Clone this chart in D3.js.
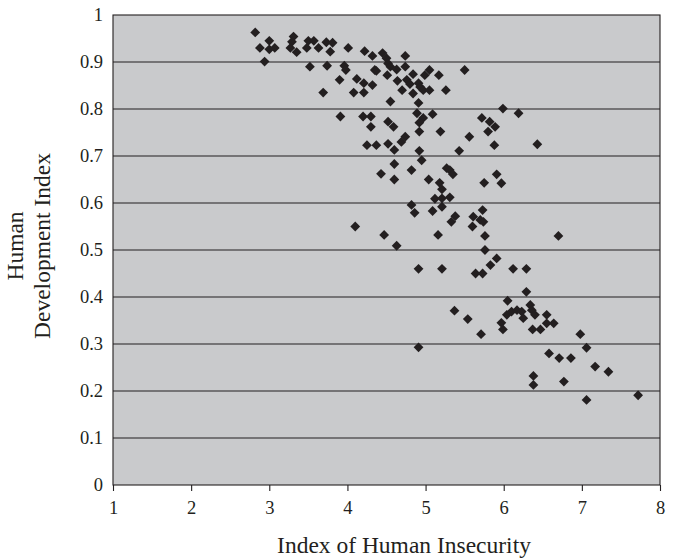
<!DOCTYPE html>
<html><head><meta charset="utf-8">
<script src="https://cdn.jsdelivr.net/npm/d3@7"></script>
<style>body{margin:0;background:#fff}svg{display:block}</style>
</head><body>
<svg id="c" width="673" height="559"></svg>
<script>
const xTicks = [1,2,3,4,5,6,7,8];
const yTicks = [0,0.1,0.2,0.3,0.4,0.5,0.6,0.7,0.8,0.9,1];
const xTitle = "Index of Human Insecurity";
const yTitle = ["Human","Development Index"];

// Index of Human Insecurity (x) and Human Development Index (y)
const ihi = [2.82,2.88,3.00,3.00,3.07,2.94,3.31,3.27,3.35,3.29,3.50,3.57,3.48,3.63,3.73,3.81,3.78,4.01,4.22,4.32,
3.52,3.74,3.96,3.98,3.90,4.12,4.21,4.32,4.35,3.69,4.08,4.21,3.91,4.20,4.30,4.30,4.45,4.50,4.52,4.55,
4.74,4.37,4.51,4.63,4.74,4.84,4.99,5.05,5.17,5.50,4.64,4.76,4.80,4.91,4.93,4.97,5.05,4.70,4.84,5.26,
4.55,4.91,5.99,4.89,4.97,5.09,4.92,4.52,4.59,4.92,5.19,4.74,5.56,5.72,5.82,5.89,5.80,4.25,4.37,4.52,
4.60,4.69,4.92,4.95,5.43,5.88,4.60,4.43,4.60,4.82,5.04,5.27,5.31,5.35,5.18,5.21,5.12,5.21,5.31,5.21,
5.75,5.91,5.97,4.82,4.86,5.09,4.10,4.47,5.16,4.63,5.38,5.33,5.61,5.60,5.73,5.70,5.74,5.76,5.76,5.91,
5.83,4.91,5.21,5.64,5.73,6.12,6.29,6.29,6.05,5.37,5.54,5.71,5.97,5.99,6.04,6.10,6.17,6.23,6.25,6.34,
6.36,6.40,6.37,6.47,6.55,6.55,6.64,6.98,7.06,4.91,6.58,6.71,6.86,7.17,7.34,6.38,6.38,6.77,7.06,7.72,
6.19,6.43,6.70];
const hdi = [0.963,0.930,0.945,0.927,0.930,0.901,0.954,0.930,0.921,0.943,0.945,0.945,0.930,0.930,0.942,0.941,0.922,0.930,0.923,0.913,
0.890,0.892,0.892,0.883,0.862,0.864,0.855,0.851,0.883,0.835,0.835,0.835,0.784,0.784,0.784,0.762,0.919,0.908,0.897,0.890,
0.913,0.881,0.872,0.884,0.890,0.874,0.872,0.883,0.872,0.883,0.860,0.862,0.853,0.855,0.847,0.840,0.840,0.840,0.833,0.840,
0.816,0.813,0.801,0.791,0.781,0.789,0.771,0.773,0.762,0.752,0.752,0.741,0.741,0.781,0.773,0.762,0.752,0.723,0.723,0.726,
0.713,0.730,0.711,0.691,0.711,0.723,0.683,0.662,0.650,0.670,0.650,0.674,0.670,0.661,0.643,0.629,0.609,0.610,0.612,0.592,
0.643,0.661,0.642,0.596,0.579,0.583,0.550,0.532,0.532,0.509,0.572,0.560,0.571,0.550,0.585,0.564,0.560,0.530,0.500,0.482,
0.468,0.460,0.460,0.450,0.450,0.460,0.460,0.411,0.392,0.371,0.353,0.321,0.345,0.331,0.362,0.369,0.372,0.369,0.355,0.383,
0.372,0.362,0.331,0.331,0.362,0.344,0.344,0.321,0.292,0.293,0.280,0.270,0.270,0.252,0.241,0.232,0.213,0.220,0.181,0.191,
0.791,0.725,0.530];

const data = ihi.map((v,i)=>({x:v, y:hdi[i]}));

const L=113, R=660, T=15, B=485;
const svg = d3.select("#c");
const font = "'Liberation Serif','Times New Roman',serif";

const x = d3.scaleLinear().domain([1,8]).range([L,R]);
const y = d3.scaleLinear().domain([0,1]).range([B,T]);

svg.append("rect").attr("x",L).attr("y",T).attr("width",R-L).attr("height",B-T)
  .attr("fill","#c9cacc");

svg.append("g").selectAll("line").data(yTicks.filter(d=>d>0&&d<1)).join("line")
  .attr("x1",L).attr("x2",R).attr("y1",d=>y(d)).attr("y2",d=>y(d))
  .attr("stroke","#231f20").attr("stroke-width",1.1);

svg.append("rect").attr("x",L).attr("y",T).attr("width",R-L).attr("height",B-T)
  .attr("fill","none").attr("stroke","#231f20").attr("stroke-width",1.1);

const gx = svg.append("g").attr("transform",`translate(0,${B})`)
  .call(d3.axisBottom(x).tickValues(xTicks).tickSize(6).tickPadding(10).tickFormat(d3.format("d")));
const gy = svg.append("g").attr("transform",`translate(${L},0)`)
  .call(d3.axisLeft(y).tickValues(yTicks).tickSize(0).tickPadding(10)
    .tickFormat(d=> (d===0||d===1)? String(d) : d3.format(".1f")(d)));
[gx,gy].forEach(g=>{
  g.select(".domain").remove();
  g.selectAll(".tick line").attr("stroke","#231f20").attr("stroke-width",1.1);
  g.selectAll(".tick text").attr("font-family",font).attr("font-size",18.5).attr("fill","#231f20");
});

const sym = d3.symbol().type(d3.symbolSquare).size(48);
svg.append("g").selectAll("path").data(data).join("path")
  .attr("d",sym)
  .attr("transform",d=>`translate(${x(d.x)},${y(d.y)}) rotate(45)`)
  .attr("fill","#231f20");

svg.append("text").attr("x",404).attr("y",553).attr("text-anchor","middle")
  .attr("font-family",font).attr("font-size",23.5).attr("fill","#231f20").text(xTitle);

const yt = svg.append("text").attr("transform",`rotate(-90)`)
  .attr("text-anchor","middle").attr("font-family",font).attr("font-size",23.5).attr("fill","#231f20");
yt.append("tspan").attr("x",-246).attr("y",23).text(yTitle[0]);
yt.append("tspan").attr("x",-246).attr("y",50).text(yTitle[1]);
</script>
</body></html>
